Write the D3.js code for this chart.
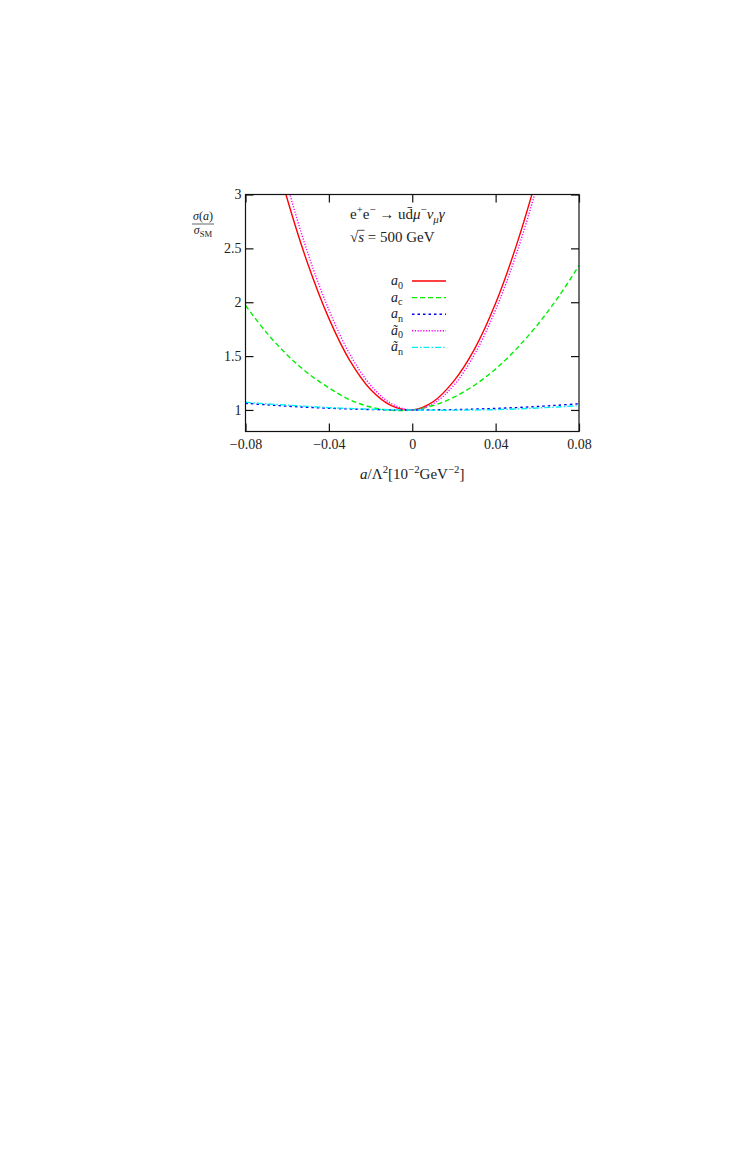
<!DOCTYPE html>
<html>
<head>
<meta charset="utf-8">
<script src="https://cdn.jsdelivr.net/npm/d3@7"></script>
<style>
  body { margin: 0; background: #fff; }
  text { font-family: "Liberation Serif", "DejaVu Serif", serif; fill: #222; }
</style>
</head>
<body>
<script>
// size of the page
var w = 745;
var h = 1170;

// plot frame
var frameLeft = 245.5, frameRight = 579, frameTop = 194.5, frameBottom = 431.5;

// data
var xValues = [-0.08, -0.07, -0.06, -0.05, -0.04, -0.03, -0.02, -0.01, 0,
               0.01, 0.02, 0.03, 0.04, 0.05, 0.06, 0.07, 0.08];
var a0Values = [4.54, 3.69, 2.96, 2.35, 1.85, 1.46, 1.19, 1.04, 1.0,
                1.076, 1.27, 1.57, 1.99, 2.53, 3.18, 3.94, 4.82];
var acValues = [1.97, 1.72, 1.51, 1.34, 1.205, 1.095, 1.027, 0.996, 1.0,
                1.041, 1.118, 1.232, 1.381, 1.567, 1.789, 2.046, 2.34];
var anValues = [1.062, 1.048, 1.035, 1.024, 1.016, 1.009, 1.004, 1.001, 1.0,
                1.001, 1.003, 1.008, 1.014, 1.022, 1.032, 1.044, 1.057];
var at0Values = [4.71, 3.84, 3.09, 2.45, 1.93, 1.52, 1.23, 1.058, 1.0,
                 1.058, 1.23, 1.52, 1.93, 2.45, 3.09, 3.84, 4.71];
var atnValues = [1.072, 1.057, 1.045, 1.033, 1.022, 1.014, 1.007, 1.002, 1.0,
                 0.998, 0.998, 1.0, 1.003, 1.009, 1.018, 1.028, 1.04];

var xTicks = [-0.08, -0.04, 0, 0.04, 0.08];
var yTicks = [1, 1.5, 2, 2.5, 3];

var seriesNames = ["a0", "ac", "an", "at0", "atn"];
var seriesColors = ["#ff0000", "#00f000", "#0000ff", "#ff00ff", "#00eef5"];
var seriesDashes = [null, "5,3", "2.5,3", "1.2,1.6", "6,2,1.5,2"];
var seriesLabels = [
  [["a", "i"], ["0", "sub"]],
  [["a", "i"], ["c", "sub"]],
  [["a", "i"], ["n", "sub"]],
  [["\u00e3", "i"], ["0", "sub"]],
  [["\u00e3", "i"], ["n", "sub"]]
];

var series = [a0Values, acValues, anValues, at0Values, atnValues].map(function(vals, i) {
  return {
    name: seriesNames[i],
    color: seriesColors[i],
    dash: seriesDashes[i],
    label: seriesLabels[i],
    points: vals.map(function(v, j) { return { x: xValues[j], y: v }; })
  };
});

var svg = d3.select("body")
            .append("svg")
            .attr("width", w)
            .attr("height", h);

var x = d3.scaleLinear().domain([-0.08, 0.08]).range([frameLeft, frameRight]);
var y = d3.scaleLinear().domain([0.8, 3]).range([frameBottom, frameTop]);

// writes text made of plain, italic, super and subscript pieces
function rich(t, parts, size) {
  var shift = 0;
  parts.forEach(function(p) {
    var kind = p[1];
    var target = 0;
    if (kind == "sup") target = -size * 0.4;
    if (kind == "sub" || kind == "subi") target = size * 0.25;
    var ts = t.append("tspan").attr("dy", target - shift).text(p[0]);
    if (kind == "sup" || kind == "sub" || kind == "subi") ts.attr("font-size", size * 0.72);
    if (kind == "i" || kind == "subi") ts.attr("font-style", "italic");
    shift = target;
  });
}

svg.append("clipPath")
    .attr("id", "frame-clip")
  .append("rect")
    .attr("x", frameLeft)
    .attr("y", frameTop)
    .attr("width", frameRight - frameLeft)
    .attr("height", frameBottom - frameTop);

// curves
var line = d3.line()
  .x(function(d) { return x(d.x); })
  .y(function(d) { return y(d.y); })
  .curve(d3.curveCatmullRom);

svg.append("g")
    .attr("clip-path", "url(#frame-clip)")
  .selectAll("path")
  .data(series)
  .enter()
  .append("path")
    .attr("d", function(d) { return line(d.points); })
    .style("fill", "none")
    .style("stroke", function(d) { return d.color; })
    .style("stroke-width", "1.4px")
    .style("stroke-dasharray", function(d) { return d.dash; });

// axes: ticks inward on all four sides
var tickLen = 8;
var axisBottom = d3.axisBottom(x).tickValues(xTicks).tickSize(tickLen).tickSizeOuter(0)
  .tickFormat(function(d) { return d == 0 ? "0" : d3.format(".2f")(d).replace("-", "\u2212"); });
var axisLeft = d3.axisLeft(y).tickValues(yTicks).tickSize(tickLen).tickSizeOuter(0)
  .tickFormat(function(d) { return d; });

var gx = svg.append("g")
    .attr("transform", "translate(0," + frameBottom + ")")
    .call(axisBottom);
gx.selectAll(".tick line").attr("y2", -tickLen);
gx.selectAll(".tick text").attr("y", 8).attr("dy", "0.71em");

var gy = svg.append("g")
    .attr("transform", "translate(" + frameLeft + ",0)")
    .call(axisLeft);
gy.selectAll(".tick line").attr("x2", tickLen);
gy.selectAll(".tick text").attr("x", -4).attr("dy", "0.32em");

svg.append("g")
    .attr("transform", "translate(0," + frameTop + ")")
    .call(d3.axisTop(x).tickValues(xTicks).tickSize(-tickLen).tickSizeOuter(0).tickFormat(""));
svg.append("g")
    .attr("transform", "translate(" + frameRight + ",0)")
    .call(d3.axisRight(y).tickValues(yTicks).tickSize(-tickLen).tickSizeOuter(0).tickFormat(""));

svg.selectAll(".domain").remove();
svg.selectAll(".tick line").attr("stroke", "#111").attr("stroke-width", 1.2);
svg.selectAll(".tick text")
  .attr("font-family", "Liberation Serif, DejaVu Serif, serif")
  .attr("font-size", 14)
  .attr("fill", "#222");

svg.append("rect")
  .attr("x", frameLeft)
  .attr("y", frameTop)
  .attr("width", frameRight - frameLeft)
  .attr("height", frameBottom - frameTop)
  .attr("fill", "none")
  .attr("stroke", "#111")
  .attr("stroke-width", 1.2);

// title inside the frame
var title = svg.append("text").attr("x", 350).attr("y", 219).attr("font-size", 15);
rich(title, [["e", "n"], ["+", "sup"], ["e", "n"], ["\u2212", "sup"], [" \u2192 u", "n"],
             ["d\u0304", "n"], ["\u03bc", "i"], ["\u2212", "sup"], ["\u03bd", "i"],
             ["\u03bc", "subi"], ["\u03b3", "i"]], 15);

var roots = svg.append("text").attr("x", 350).attr("y", 242).attr("font-size", 15);
rich(roots, [["\u221a", "n"], ["s", "i"], [" = 500 GeV", "n"]], 15);
var rootBox = roots.node().getExtentOfChar(0);
var sEnd = roots.node().getEndPositionOfChar(1);
svg.append("line")
  .attr("x1", rootBox.x + rootBox.width - 0.5)
  .attr("x2", sEnd.x + 0.5)
  .attr("y1", rootBox.y + 1.3)
  .attr("y2", rootBox.y + 1.3)
  .attr("stroke", "#222")
  .attr("stroke-width", 0.8);

// legend
var legendTop = 281;
var legendStep = 16.6;
var legend = svg.append("g");
series.forEach(function(s, i) {
  var ly = legendTop + i * legendStep;
  var t = legend.append("text")
    .attr("x", 391)
    .attr("y", ly + 4)
    .attr("font-size", 14);
  rich(t, s.label, 14);
  legend.append("line")
    .attr("x1", 412)
    .attr("x2", 446)
    .attr("y1", ly)
    .attr("y2", ly)
    .attr("stroke", s.color)
    .attr("stroke-width", 1.4)
    .attr("stroke-dasharray", s.dash);
});

// axis titles
var xTitle = svg.append("text")
  .attr("x", (frameLeft + frameRight) / 2)
  .attr("y", 479)
  .attr("font-size", 15)
  .attr("text-anchor", "middle");
rich(xTitle, [["a", "i"], ["/\u039b", "n"], ["2", "sup"], ["[10", "n"], ["\u22122", "sup"],
              ["GeV", "n"], ["\u22122", "sup"], ["]", "n"]], 15);

var num = svg.append("text")
  .attr("x", 203)
  .attr("y", 220)
  .attr("font-size", 12)
  .attr("text-anchor", "middle");
rich(num, [["\u03c3", "i"], ["(", "n"], ["a", "i"], [")", "n"]], 12);
svg.append("line")
  .attr("x1", 192)
  .attr("x2", 214)
  .attr("y1", 224)
  .attr("y2", 224)
  .attr("stroke", "#222")
  .attr("stroke-width", 0.7);
var den = svg.append("text")
  .attr("x", 203)
  .attr("y", 234)
  .attr("font-size", 12)
  .attr("text-anchor", "middle");
rich(den, [["\u03c3", "i"], ["SM", "sub"]], 12);
</script>
</body>
</html>
